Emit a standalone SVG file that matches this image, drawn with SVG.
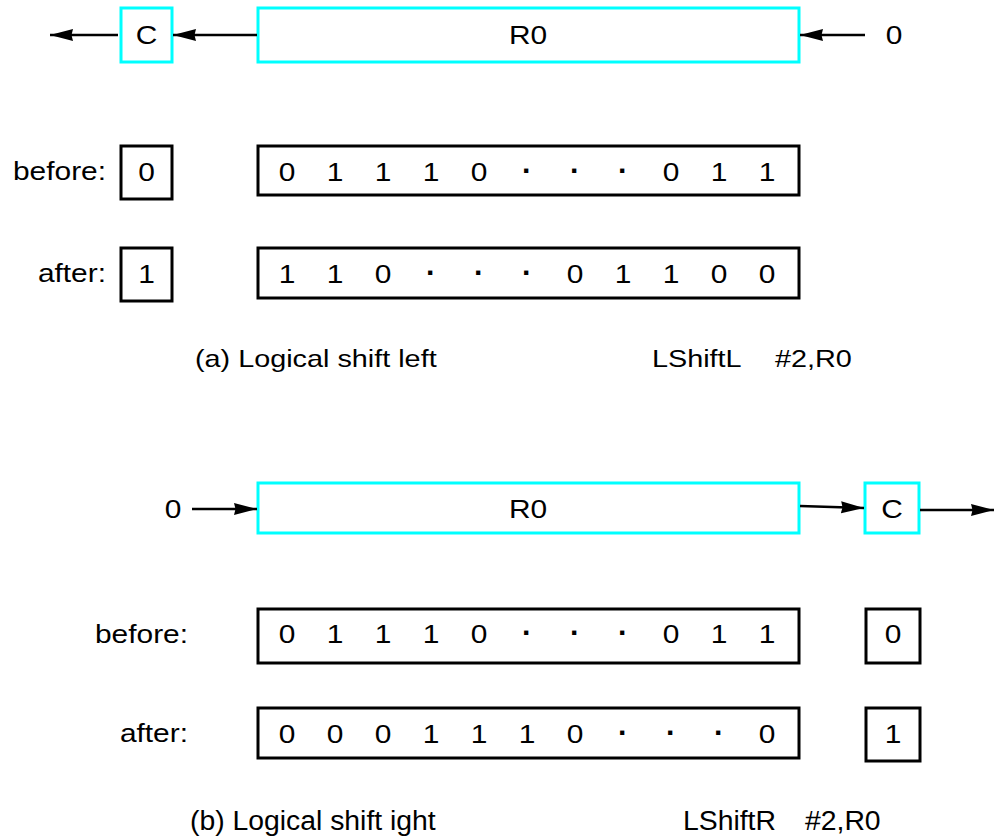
<svg xmlns="http://www.w3.org/2000/svg" width="994" height="838" viewBox="0 0 994 838">
  <defs>
    <marker id="head" markerUnits="userSpaceOnUse" markerWidth="26" markerHeight="14" refX="23" refY="6.5" orient="auto">
      <path d="M0,0.5 L23,6.5 L0,12.5 L1.5,6.5 z" fill="#000"/>
    </marker>
    <style>
      .reg { fill: #fff; stroke: #00ffff; stroke-width: 3; }
      .box { fill: #fff; stroke: #000; stroke-width: 3; }
      .wire { fill: none; stroke: #000; stroke-width: 2.5; marker-end: url(#head); }
      text { font-family: "Liberation Sans", Arial, sans-serif; fill: #000; }
      .t { font-size: 26px; }
      .m { text-anchor: middle; }
      .e { text-anchor: end; }
      .d { font-weight: bold; font-size: 30px; }
      .cap { font-size: 24px; }
      .capb { font-size: 27px; }
    </style>
  </defs>

  <!-- (a) logical shift left -->
  <g id="a-carry">
    <rect class="reg" x="121" y="8" width="51" height="54"/>
    <text class="t m" transform="translate(146.5 44) scale(1.15 1)">C</text>
  </g>
  <g id="a-register">
    <rect class="reg" x="258" y="8" width="541" height="54"/>
    <text class="t m" transform="translate(528 44) scale(1.15 1)">R0</text>
  </g>
  <g id="a-zero-in">
    <text class="t m" transform="translate(894 44) scale(1.15 1)">0</text>
  </g>
  <g id="a-connectors">
    <line class="wire" x1="118" y1="35" x2="50" y2="35"/>
    <line class="wire" x1="257" y1="35" x2="173" y2="35"/>
    <line class="wire" x1="865" y1="35" x2="800" y2="35"/>
  </g>

  <g id="a-before">
    <text class="t e" transform="translate(106 180) scale(1.15 1)">before:</text>
    <rect class="box" x="121" y="146" width="51" height="53"/>
    <text class="t m" transform="translate(146.5 181) scale(1.15 1)">0</text>
    <rect class="box" x="258" y="146" width="541" height="49"/>
    <g class="t m">
      <text transform="translate(287 181) scale(1.15 1)">0</text>
      <text transform="translate(335 181) scale(1.15 1)">1</text>
      <text transform="translate(383 181) scale(1.15 1)">1</text>
      <text transform="translate(431 181) scale(1.15 1)">1</text>
      <text transform="translate(479 181) scale(1.15 1)">0</text>
      <text class="d" transform="translate(527 181)">·</text>
      <text class="d" transform="translate(575 181)">·</text>
      <text class="d" transform="translate(623 181)">·</text>
      <text transform="translate(671 181) scale(1.15 1)">0</text>
      <text transform="translate(719 181) scale(1.15 1)">1</text>
      <text transform="translate(767 181) scale(1.15 1)">1</text>
    </g>
  </g>

  <g id="a-after">
    <text class="t e" transform="translate(106 282) scale(1.15 1)">after:</text>
    <rect class="box" x="121" y="248" width="51" height="53"/>
    <text class="t m" transform="translate(146.5 283) scale(1.15 1)">1</text>
    <rect class="box" x="258" y="248" width="541" height="50"/>
    <g class="t m">
      <text transform="translate(287 283) scale(1.15 1)">1</text>
      <text transform="translate(335 283) scale(1.15 1)">1</text>
      <text transform="translate(383 283) scale(1.15 1)">0</text>
      <text class="d" transform="translate(431 283)">·</text>
      <text class="d" transform="translate(479 283)">·</text>
      <text class="d" transform="translate(527 283)">·</text>
      <text transform="translate(575 283) scale(1.15 1)">0</text>
      <text transform="translate(623 283) scale(1.15 1)">1</text>
      <text transform="translate(671 283) scale(1.15 1)">1</text>
      <text transform="translate(719 283) scale(1.15 1)">0</text>
      <text transform="translate(767 283) scale(1.15 1)">0</text>
    </g>
  </g>

  <g id="a-caption">
    <text class="cap" transform="translate(195 367) scale(1.2 1)">(a) Logical shift left</text>
    <text class="cap" transform="translate(652 367) scale(1.2 1)">LShiftL</text>
    <text class="cap" transform="translate(775 367) scale(1.2 1)">#2,R0</text>
  </g>

  <!-- (b) logical shift right -->
  <g id="b-zero-in">
    <text class="t m" transform="translate(173 518) scale(1.15 1)">0</text>
  </g>
  <g id="b-register">
    <rect class="reg" x="258" y="483" width="541" height="50"/>
    <text class="t m" transform="translate(528 518) scale(1.15 1)">R0</text>
  </g>
  <g id="b-carry">
    <rect class="reg" x="865" y="483" width="54" height="50"/>
    <text class="t m" transform="translate(892 518) scale(1.15 1)">C</text>
  </g>
  <g id="b-connectors">
    <line class="wire" x1="192" y1="509" x2="257" y2="509"/>
    <line class="wire" x1="800" y1="506" x2="864" y2="508"/>
    <line class="wire" x1="920" y1="510" x2="994" y2="510"/>
  </g>

  <g id="b-before">
    <text class="t e" transform="translate(188 643) scale(1.15 1)">before:</text>
    <rect class="box" x="258" y="609" width="541" height="54"/>
    <g class="t m">
      <text transform="translate(287 643) scale(1.15 1)">0</text>
      <text transform="translate(335 643) scale(1.15 1)">1</text>
      <text transform="translate(383 643) scale(1.15 1)">1</text>
      <text transform="translate(431 643) scale(1.15 1)">1</text>
      <text transform="translate(479 643) scale(1.15 1)">0</text>
      <text class="d" transform="translate(527 643)">·</text>
      <text class="d" transform="translate(575 643)">·</text>
      <text class="d" transform="translate(623 643)">·</text>
      <text transform="translate(671 643) scale(1.15 1)">0</text>
      <text transform="translate(719 643) scale(1.15 1)">1</text>
      <text transform="translate(767 643) scale(1.15 1)">1</text>
    </g>
    <rect class="box" x="866" y="609" width="54" height="54"/>
    <text class="t m" transform="translate(893 643) scale(1.15 1)">0</text>
  </g>

  <g id="b-after">
    <text class="t e" transform="translate(188 742) scale(1.15 1)">after:</text>
    <rect class="box" x="258" y="708" width="541" height="50"/>
    <g class="t m">
      <text transform="translate(287 743) scale(1.15 1)">0</text>
      <text transform="translate(335 743) scale(1.15 1)">0</text>
      <text transform="translate(383 743) scale(1.15 1)">0</text>
      <text transform="translate(431 743) scale(1.15 1)">1</text>
      <text transform="translate(479 743) scale(1.15 1)">1</text>
      <text transform="translate(527 743) scale(1.15 1)">1</text>
      <text transform="translate(575 743) scale(1.15 1)">0</text>
      <text class="d" transform="translate(623 743)">·</text>
      <text class="d" transform="translate(671 743)">·</text>
      <text class="d" transform="translate(719 743)">·</text>
      <text transform="translate(767 743) scale(1.15 1)">0</text>
    </g>
    <rect class="box" x="866" y="708" width="54" height="53"/>
    <text class="t m" transform="translate(893 743) scale(1.15 1)">1</text>
  </g>

  <g id="b-caption">
    <text class="capb" transform="translate(190 830) scale(1.05 1)">(b) Logical shift ight</text>
    <text class="capb" transform="translate(683 830) scale(1.05 1)">LShiftR</text>
    <text class="capb" transform="translate(805 830) scale(1.05 1)">#2,R0</text>
  </g>
</svg>
